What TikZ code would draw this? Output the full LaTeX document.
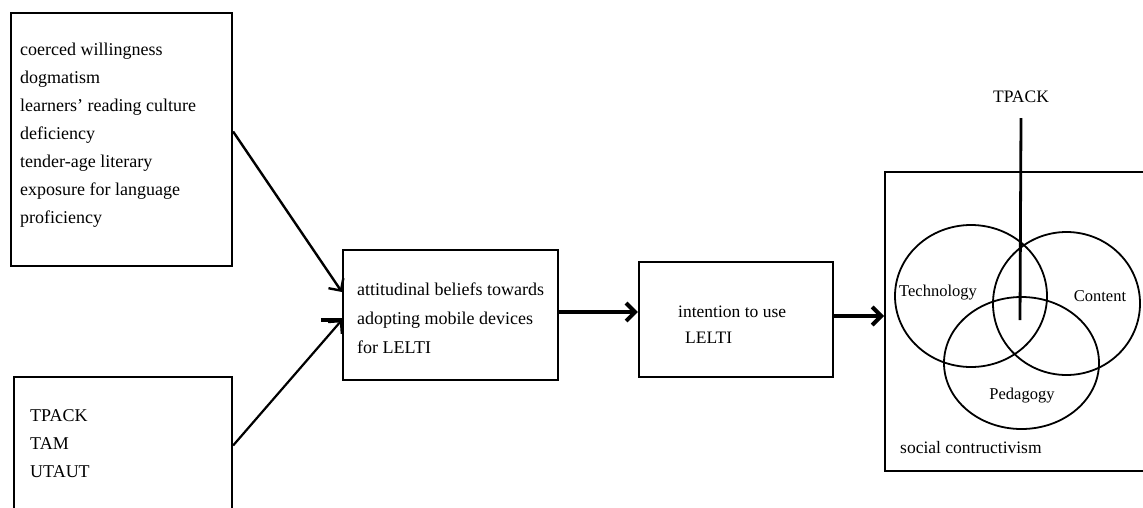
\documentclass[tikz,border=0pt]{standalone}
\usepackage{fontspec}
\setmainfont{Liberation Serif}
\usetikzlibrary{arrows.meta,shapes.geometric}
\begin{document}
\begin{tikzpicture}[x=1pt,y=-1pt,
  boxstyle/.style={draw,line width=2.2pt,rectangle,inner sep=0pt},
  txt/.style={inner sep=0pt,align=left,anchor=north west,font=\fontsize{18}{28}\selectfont},
  vlabel/.style={inner sep=0pt,font=\fontsize{16.5}{20}\selectfont},
  conn/.style={line width=2.4pt,-{Straight Barb[length=9pt,width=18pt]}},
  venn/.style={draw,ellipse,line width=1.8pt,inner sep=0pt}]
\useasboundingbox (0,0) rectangle (1143,507);
\clip (0,0) rectangle (1143,507);
% boxes
\node[boxstyle,minimum width=221pt,minimum height=253pt] (b1) at (121.5,139.5) {};
\node[boxstyle,minimum width=218pt,minimum height=163pt] (b2) at (123,458.5) {};
\node[boxstyle,minimum width=215pt,minimum height=130pt] (b3) at (450.5,315) {};
\node[boxstyle,minimum width=194pt,minimum height=115pt] (b4) at (736,319.5) {};
\node[boxstyle,line width=2pt,minimum width=275pt,minimum height=299pt] (b5) at (1022.5,321.5) {};
% texts
\node[txt] (t1) at (20,43) {coerced willingness\\dogmatism\\learners' reading culture\\deficiency\\tender-age literary\\exposure for language\\proficiency};
\node[txt] (t2) at (30,409) {TPACK\\TAM\\UTAUT};
\node[txt,font=\fontsize{18}{29}\selectfont] (t3) at (357,283) {attitudinal beliefs towards\\adopting mobile devices\\for LELTI};
\node[txt,font=\fontsize{17.5}{26}\selectfont] (t4) at (678,306) {intention to use\\\hspace*{7pt}LELTI};
% venn
\node[venn,minimum width=152pt,minimum height=142pt] (eT) at (971,296) {};
\node[venn,minimum width=147pt,minimum height=143pt] (eC) at (1066.5,303.5) {};
\node[venn,minimum width=155pt,minimum height=132pt] (eP) at (1021.5,363) {};
\node[vlabel] (lT) at (938,293) {Technology};
\node[vlabel] (lC) at (1100,296) {Content};
\node[vlabel] (lP) at (1022,396) {Pedagogy};
\node[inner sep=0pt,anchor=base west,font=\fontsize{17.5}{20}\selectfont] (ls) at (900,453) {social contructivism};
\node[inner sep=0pt,font=\fontsize{17.5}{20}\selectfont] (tp) at (1021,97) {TPACK};
\coordinate (tpend) at (1020,320);
\draw[line width=2.8pt] ([yshift=-15pt]tp.south) -- (tpend);
% connectors
\draw[conn] ([yshift=8pt]b1.east) -- ([yshift=23pt]b3.west);
\draw[conn,line width=2.2pt] ([yshift=13pt]b2.east) -- ([yshift=-5pt]b3.west);
\draw[line width=3.5pt] ([xshift=-21pt,yshift=-5pt]b3.west) -- ([yshift=-5pt]b3.west);
\draw[conn,line width=4pt] ([yshift=3pt]b3.east) -- ([yshift=3pt]b3.east -| b4.west);
\draw[conn,line width=4pt] ([yshift=3.5pt]b4.east) -- ([yshift=3.5pt]b4.east -| b5.west);
\end{tikzpicture}
\end{document}
